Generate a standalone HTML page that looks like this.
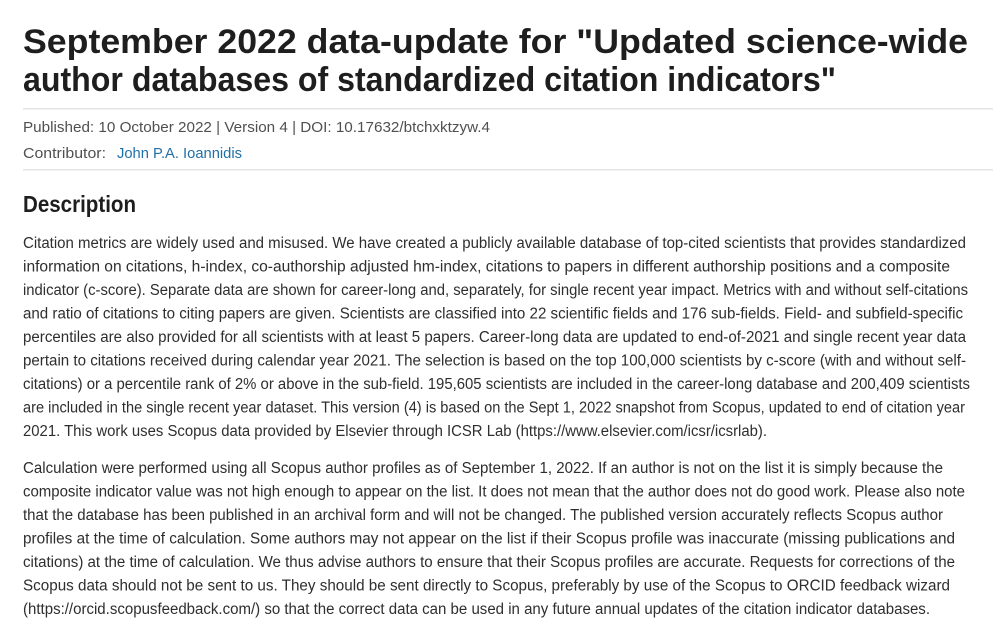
<!DOCTYPE html>
<html><head><meta charset="utf-8"><style>
html,body{margin:0;padding:0;background:#fff;width:1000px;height:626px;overflow:hidden}
svg{display:block}
text{font-family:"Liberation Sans",sans-serif;fill:#2e2e2e}
.t{font-weight:bold;font-size:34px;fill:#1e1e1e}
.m{font-size:15px;fill:#505050}
.b{font-size:15.5px}
</style></head><body>
<svg width="1000" height="626" xmlns="http://www.w3.org/2000/svg">
<text class="t" x="23" y="53" textLength="945" lengthAdjust="spacingAndGlyphs">September 2022 data-update for "Updated science-wide</text>
<text class="t" x="23" y="91" textLength="813" lengthAdjust="spacingAndGlyphs">author databases of standardized citation indicators"</text>
<rect x="23" y="108" width="970" height="1.5" fill="#e4e4e4"/>
<text class="m" x="23" y="132" textLength="467" lengthAdjust="spacingAndGlyphs">Published: 10 October 2022 | Version 4 | DOI: 10.17632/btchxktzyw.4</text>
<text class="m" x="23" y="158" textLength="83" lengthAdjust="spacingAndGlyphs">Contributor:</text>
<text class="m" x="117" y="158" textLength="125" lengthAdjust="spacingAndGlyphs" style="fill:#1f6fa8">John P.A. Ioannidis</text>
<rect x="23" y="169" width="970" height="1.5" fill="#e4e4e4"/>
<text x="23" y="212" textLength="113" lengthAdjust="spacingAndGlyphs" style="font-weight:bold;font-size:23px;fill:#1e1e1e">Description</text>
<g class="b">
<text class="b" x="23" y="248" textLength="943" lengthAdjust="spacingAndGlyphs">Citation metrics are widely used and misused. We have created a publicly available database of top-cited scientists that provides standardized</text>
<text class="b" x="23" y="271.5" textLength="927" lengthAdjust="spacingAndGlyphs">information on citations, h-index, co-authorship adjusted hm-index, citations to papers in different authorship positions and a composite</text>
<text class="b" x="23" y="295" textLength="945" lengthAdjust="spacingAndGlyphs">indicator (c-score). Separate data are shown for career-long and, separately, for single recent year impact. Metrics with and without self-citations</text>
<text class="b" x="23" y="318.5" textLength="940" lengthAdjust="spacingAndGlyphs">and ratio of citations to citing papers are given. Scientists are classified into 22 scientific fields and 176 sub-fields. Field- and subfield-specific</text>
<text class="b" x="23" y="342" textLength="943" lengthAdjust="spacingAndGlyphs">percentiles are also provided for all scientists with at least 5 papers. Career-long data are updated to end-of-2021 and single recent year data</text>
<text class="b" x="23" y="365.5" textLength="943" lengthAdjust="spacingAndGlyphs">pertain to citations received during calendar year 2021. The selection is based on the top 100,000 scientists by c-score (with and without self-</text>
<text class="b" x="23" y="389" textLength="947" lengthAdjust="spacingAndGlyphs">citations) or a percentile rank of 2% or above in the sub-field. 195,605 scientists are included in the career-long database and 200,409 scientists</text>
<text class="b" x="23" y="412.5" textLength="942" lengthAdjust="spacingAndGlyphs">are included in the single recent year dataset. This version (4) is based on the Sept 1, 2022 snapshot from Scopus, updated to end of citation year</text>
<text class="b" x="23" y="436" textLength="744" lengthAdjust="spacingAndGlyphs">2021. This work uses Scopus data provided by Elsevier through ICSR Lab (https://www.elsevier.com/icsr/icsrlab).</text>
<text class="b" x="23" y="473" textLength="920" lengthAdjust="spacingAndGlyphs">Calculation were performed using all Scopus author profiles as of September 1, 2022. If an author is not on the list it is simply because the</text>
<text class="b" x="23" y="496.5" textLength="942" lengthAdjust="spacingAndGlyphs">composite indicator value was not high enough to appear on the list. It does not mean that the author does not do good work.  Please also note</text>
<text class="b" x="23" y="520" textLength="920" lengthAdjust="spacingAndGlyphs">that the database has been published in an archival form and will not be changed. The published version accurately reflects Scopus author</text>
<text class="b" x="23" y="543.5" textLength="932" lengthAdjust="spacingAndGlyphs">profiles at the time of calculation.  Some authors may not appear on the list if their Scopus profile was inaccurate (missing publications and</text>
<text class="b" x="23" y="567" textLength="932" lengthAdjust="spacingAndGlyphs">citations) at the time of calculation. We thus advise authors to ensure that their Scopus profiles are accurate. Requests for corrections of the</text>
<text class="b" x="23" y="590.5" textLength="927" lengthAdjust="spacingAndGlyphs">Scopus data should not be sent to us. They should be sent directly to Scopus, preferably by use of the Scopus to ORCID feedback wizard</text>
<text class="b" x="23" y="614" textLength="907" lengthAdjust="spacingAndGlyphs">(https://orcid.scopusfeedback.com/) so that the correct data can be used in any future annual updates of the citation indicator databases.</text>
</g>
</svg>
</body></html>
